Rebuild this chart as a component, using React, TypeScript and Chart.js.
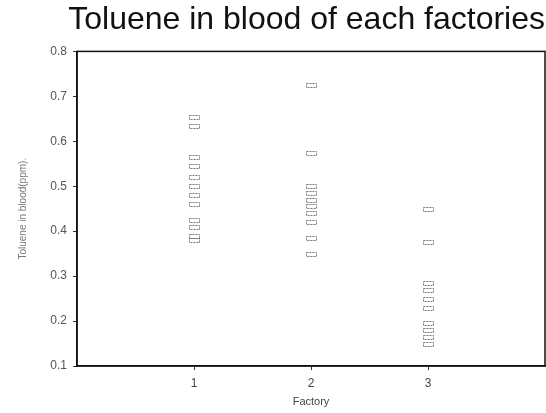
import React, { useEffect, useRef } from "react";
import { Chart, registerables } from "chart.js";

Chart.register(...registerables);

const chartTitle = "Toluene in blood of each factories";
const xAxisTitle = "Factory";
const yAxisTitle = "Toluene in blood(ppm).";
const factories = [1, 2, 3];
const factory1Values = [0.655, 0.635, 0.565, 0.545, 0.52, 0.5, 0.48, 0.46, 0.425, 0.41, 0.39, 0.38];
const factory2Values = [0.725, 0.575, 0.5, 0.485, 0.47, 0.455, 0.44, 0.42, 0.385, 0.35];
const factory3Values = [0.45, 0.375, 0.285, 0.27, 0.25, 0.23, 0.195, 0.18, 0.165, 0.15];
const yTicks = [0.1, 0.2, 0.3, 0.4, 0.5, 0.6, 0.7, 0.8];

const boxPlugin = {
  id: "box",
  afterDatasetsDraw(chart: any) {
    const { ctx, chartArea } = chart;
    ctx.save();
    // hollow rectangle markers at each point position computed by the scales
    chart.data.datasets.forEach((_: any, di: number) => {
      const meta = chart.getDatasetMeta(di);
      meta.data.forEach((el: any) => {
        const x = Math.round(el.x) + 0.5;
        const y = Math.round(el.y) + 0.5;
        ctx.strokeStyle = "#777";
        ctx.lineWidth = 1;
        ctx.setLineDash([2, 1]);
        ctx.strokeRect(x - 5, y - 2, 10, 4);
      });
    });
    ctx.setLineDash([]);
    ctx.strokeStyle = "#111";
    ctx.lineWidth = 1.5;
    ctx.strokeRect(chartArea.left, chartArea.top, chartArea.right - chartArea.left, chartArea.bottom - chartArea.top);
    ctx.restore();
  },
};

export default function App() {
  const ref = useRef<HTMLCanvasElement>(null);
  useEffect(() => {
    const series = [factory1Values, factory2Values, factory3Values];
    const points = series.flatMap((vals, i) => vals.map((v) => ({ x: factories[i], y: v })));
    const chart = new Chart(ref.current!, {
      type: "scatter",
      data: {
        datasets: [
          {
            data: points,
            pointRadius: 0,
            pointHoverRadius: 0,
            showLine: false,
          },
        ],
      },
      plugins: [boxPlugin],
      options: {
        animation: false,
        responsive: false,
        layout: { padding: { left: 0, right: 1, top: 0, bottom: 4 } },
        plugins: {
          legend: { display: false },
          tooltip: { enabled: false },
          title: {
            display: true,
            text: chartTitle,
            align: "end",
            color: "#111",
            font: { family: "Liberation Sans", size: 32, weight: "normal" },
            padding: { top: 1, bottom: 12 },
          },
        },
        scales: {
          x: {
            type: "linear",
            min: 0,
            max: 4,
            afterBuildTicks: (s: any) => {
              s.ticks = factories.map((v) => ({ value: v }));
            },
            afterFit: (s: any) => {
              s.height = 43;
            },
            grid: { drawOnChartArea: false, tickLength: 4, color: "#333" },
            border: { color: "#111", width: 1.5 },
            ticks: {
              color: "#444",
              padding: 6,
              font: { family: "Liberation Sans", size: 12 },
              callback: (v: any) => String(v),
            },
            title: {
              display: true,
              text: xAxisTitle,
              color: "#444",
              font: { family: "Liberation Sans", size: 11 },
              padding: { top: 3, bottom: 0 },
            },
          },
          y: {
            min: 0.1,
            max: 0.8,
            afterBuildTicks: (s: any) => {
              s.ticks = yTicks.map((v) => ({ value: v }));
            },
            afterFit: (s: any) => {
              s.width = 77;
            },
            grid: { drawOnChartArea: false, tickLength: 4, color: "#333" },
            border: { color: "#111", width: 1.5 },
            ticks: {
              color: "#555",
              padding: 6,
              font: { family: "Liberation Sans", size: 12 },
              callback: (v: any) => Number(v).toFixed(1),
            },
            title: {
              display: true,
              text: yAxisTitle,
              color: "#777",
              font: { family: "Liberation Sans", size: 10 },
              padding: { top: 17, bottom: 0 },
            },
          },
        },
      },
    });
    return () => chart.destroy();
  }, []);
  return (
    <div style={{ position: "fixed", left: 0, top: 0, width: 546, height: 413, background: "#fff" }}>
      <canvas ref={ref} width={546} height={413} style={{ width: 546, height: 413 }} />
    </div>
  );
}
